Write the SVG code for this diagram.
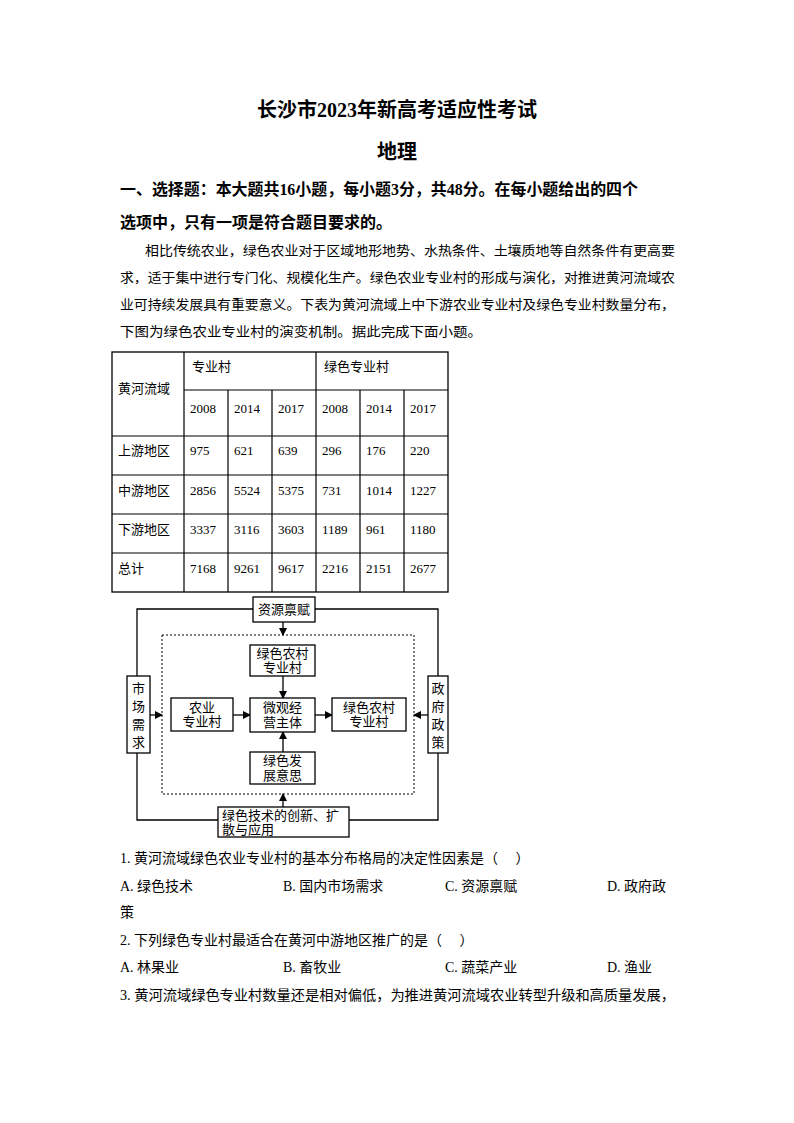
<svg xmlns="http://www.w3.org/2000/svg" width="794" height="1123" viewBox="0 0 794 1123">
<style>
text{font-family:"Liberation Serif","Noto Sans CJK SC",serif;fill:#000}
.t{font-size:14px}
.b{font-weight:bold}
.c{font-size:13px}
.n{stroke:#000;stroke-width:1.3;fill:#fff}
.l{stroke:#000;stroke-width:1.3;fill:none}
.g{stroke:#000;stroke-width:1.2}
</style>
<defs><marker id="a" markerWidth="8" markerHeight="8" refX="7" refY="4" orient="auto" markerUnits="userSpaceOnUse"><path d="M0,0L8,4L0,8z" fill="#000"/></marker></defs>
<rect width="794" height="1123" fill="#fff"/>
<text x="397" y="117" font-size="20" class="b" text-anchor="middle">长沙市2023年新高考适应性考试</text>
<text x="397" y="159" font-size="20" class="b" text-anchor="middle">地理</text>
<text x="120" y="195" font-size="16" class="b" textLength="518" lengthAdjust="spacingAndGlyphs">一、选择题：本大题共16小题，每小题3分，共48分。在每小题给出的四个</text>
<text x="120" y="228" font-size="16" class="b">选项中，只有一项是符合题目要求的。</text>
<text x="145" y="255" class="c" textLength="530" lengthAdjust="spacingAndGlyphs">相比传统农业，绿色农业对于区域地形地势、水热条件、土壤质地等自然条件有更高要</text>
<text x="120" y="282" class="c" textLength="555" lengthAdjust="spacingAndGlyphs">求，适于集中进行专门化、规模化生产。绿色农业专业村的形成与演化，对推进黄河流域农</text>
<text x="120" y="309" class="c" textLength="555" lengthAdjust="spacingAndGlyphs">业可持续发展具有重要意义。下表为黄河流域上中下游农业专业村及绿色专业村数量分布，</text>
<text x="120" y="336" class="c" textLength="362" lengthAdjust="spacingAndGlyphs">下图为绿色农业专业村的演变机制。据此完成下面小题。</text>
<g id="table">
<rect x="112" y="352" width="336" height="240" class="l"/>
<path class="g" d="M184,352V592M316,352V592M228,390V592M272,390V592M360,390V592M404,390V592M184,390H448M112,436H448M112,475H448M112,514H448M112,553H448"/>
<g class="c">
<text x="118" y="393">黄河流域</text>
<text x="192" y="371">专业村</text>
<text x="324" y="371">绿色专业村</text>
<text x="190" y="413">2008</text><text x="234" y="413">2014</text><text x="278" y="413">2017</text><text x="322" y="413">2008</text><text x="366" y="413">2014</text><text x="410" y="413">2017</text>
<text x="118" y="455">上游地区</text><text x="190" y="455">975</text><text x="234" y="455">621</text><text x="278" y="455">639</text><text x="322" y="455">296</text><text x="366" y="455">176</text><text x="410" y="455">220</text>
<text x="118" y="495">中游地区</text><text x="190" y="495">2856</text><text x="234" y="495">5524</text><text x="278" y="495">5375</text><text x="322" y="495">731</text><text x="366" y="495">1014</text><text x="410" y="495">1227</text>
<text x="118" y="534">下游地区</text><text x="190" y="534">3337</text><text x="234" y="534">3116</text><text x="278" y="534">3603</text><text x="322" y="534">1189</text><text x="366" y="534">961</text><text x="410" y="534">1180</text>
<text x="118" y="573">总计</text><text x="190" y="573">7168</text><text x="234" y="573">9261</text><text x="278" y="573">9617</text><text x="322" y="573">2216</text><text x="366" y="573">2151</text><text x="410" y="573">2677</text>
</g>
</g>
<g id="connectors">
<path class="l" d="M253,609H137V676M315,609H438V676M137,753V820H218M349,820H438V753"/>
<rect x="162" y="635" width="252" height="159" fill="none" stroke="#000" stroke-width="1" stroke-dasharray="2,2"/>
<path class="l" marker-end="url(#a)" d="M283,622V635"/>
<path class="l" marker-end="url(#a)" d="M283,676V698"/>
<path class="l" marker-end="url(#a)" d="M283,752V732"/>
<path class="l" marker-end="url(#a)" d="M233,715H250"/>
<path class="l" marker-end="url(#a)" d="M315,715H332"/>
<path class="l" marker-end="url(#a)" d="M150,715H162"/>
<path class="l" marker-end="url(#a)" d="M428,715H414"/>
<path class="l" marker-end="url(#a)" d="M283,807V794"/>
</g>
<g class="c">
<g id="n1"><rect class="n" x="253" y="597" width="62" height="25"/><text x="284" y="614" text-anchor="middle">资源禀赋</text></g>
<g id="n2"><rect class="n" x="127" y="676" width="23" height="77"/><text x="138.5" y="693" text-anchor="middle">市</text><text x="138.5" y="711" text-anchor="middle">场</text><text x="138.5" y="729" text-anchor="middle">需</text><text x="138.5" y="747" text-anchor="middle">求</text></g>
<g id="n3"><rect class="n" x="428" y="676" width="20" height="77"/><text x="438" y="693" text-anchor="middle">政</text><text x="438" y="711" text-anchor="middle">府</text><text x="438" y="729" text-anchor="middle">政</text><text x="438" y="747" text-anchor="middle">策</text></g>
<g id="n4"><rect class="n" x="250" y="645" width="65" height="31"/><text x="282.5" y="658" text-anchor="middle">绿色农村</text><text x="282.5" y="672" text-anchor="middle">专业村</text></g>
<g id="n5"><rect class="n" x="171" y="698" width="62" height="33"/><text x="202" y="712" text-anchor="middle">农业</text><text x="202" y="726" text-anchor="middle">专业村</text></g>
<g id="n6"><rect class="n" x="250" y="698" width="65" height="34"/><text x="282.5" y="712" text-anchor="middle">微观经</text><text x="282.5" y="727" text-anchor="middle">营主体</text></g>
<g id="n7"><rect class="n" x="332" y="698" width="74" height="33"/><text x="369" y="712" text-anchor="middle">绿色农村</text><text x="369" y="726" text-anchor="middle">专业村</text></g>
<g id="n8"><rect class="n" x="250" y="752" width="65" height="32"/><text x="282.5" y="765" text-anchor="middle">绿色发</text><text x="282.5" y="780" text-anchor="middle">展意思</text></g>
<g id="n9"><rect class="n" x="218" y="807" width="131" height="30"/><text x="222" y="820">绿色技术的创新、扩</text><text x="222" y="834">散与应用</text></g>
</g>
<g class="t">
<text x="120" y="863">1. 黄河流域绿色农业专业村的基本分布格局的决定性因素是（　  ）</text>
<text x="120" y="891">A. 绿色技术</text><text x="283" y="891">B. 国内市场需求</text><text x="445" y="891">C. 资源禀赋</text><text x="607" y="891">D. 政府政</text>
<text x="120" y="917">策</text>
<text x="120" y="945">2. 下列绿色专业村最适合在黄河中游地区推广的是（　  ）</text>
<text x="120" y="972">A. 林果业</text><text x="283" y="972">B. 畜牧业</text><text x="445" y="972">C. 蔬菜产业</text><text x="607" y="972">D. 渔业</text>
<text x="120" y="1000" textLength="555" lengthAdjust="spacingAndGlyphs">3. 黄河流域绿色专业村数量还是相对偏低，为推进黄河流域农业转型升级和高质量发展，</text>
</g>
</svg>
